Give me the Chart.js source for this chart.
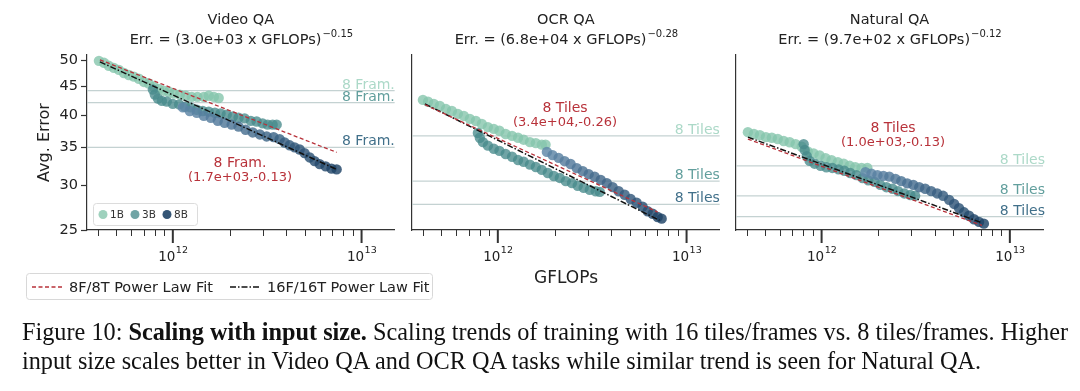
<!DOCTYPE html>
<html lang="en">
<head>
<meta charset="utf-8">
<script src="https://cdn.jsdelivr.net/npm/chart.js@4.4.1/dist/chart.umd.min.js"></script>
<style>
    body { margin: 0; background: #fff; width: 1080px; height: 391px; overflow: hidden; position: relative; }
    canvas.pane { position: absolute; top: 0; }
    #overlay { position: absolute; left: 0; top: 0; pointer-events: none; }
    #caption { position: absolute; left: 22px; top: 317px; font-family: "Liberation Serif", "Times New Roman", serif;
               color: #111; line-height: 29px; white-space: nowrap; }
</style>
</head>
<body>
<canvas id="c1" class="pane" width="400" height="270" style="left:0px"></canvas>
<canvas id="c2" class="pane" width="325" height="270" style="left:400px"></canvas>
<canvas id="c3" class="pane" width="355" height="270" style="left:725px"></canvas>
<canvas id="overlay" width="1080" height="310"></canvas>
<div id="caption">
    <div id="cap1">Figure 10: <b>Scaling with input size.</b> Scaling trends of training with 16 tiles/frames vs. 8 tiles/frames. Higher</div>
    <div id="cap2">input size scales better in Video QA and OCR QA tasks while similar trend is seen for Natural QA.</div>
</div>
<script>
// ---- axis ticks ----
const xMinorTicks = [4e11, 5e11, 6e11, 7e11, 8e11, 9e11, 2e12, 3e12, 4e12, 5e12, 6e12, 7e12, 8e12, 9e12];
const xMajorTicks = [1e12, 1e13];
const videoYTicks = [25, 30, 35, 40, 45, 50];

const panelTitles = ['Video QA', 'OCR QA', 'Natural QA'];
const fitCoef = ['3.0e+03', '6.8e+04', '9.7e+02'];
const fitExp = ['\u22120.15', '\u22120.28', '\u22120.12'];
const refNames = ['8 Fram.', '8 Tiles', '8 Tiles'];
const fit8Text = ['(1.7e+03,-0.13)', '(3.4e+04,-0.26)', '(1.0e+03,-0.13)'];
const modelSizes = ['1B', '3B', '8B'];

// ---- Video QA ----
const videoX1B = [4.06e11, 4.32e11, 4.58e11, 4.87e11, 5.18e11, 5.51e11, 5.85e11, 6.22e11, 6.61e11, 7.03e11, 7.47e11, 7.93e11,
                  8.44e11, 8.96e11, 9.52e11, 1.01e12, 1.09e12, 1.17e12, 1.26e12, 1.35e12, 1.46e12, 1.55e12, 1.65e12, 1.75e12];
const videoY1B = [49.8, 49.4, 48.8, 48.4, 48.0, 47.4, 47.0, 46.7, 46.3, 45.7, 45.4, 44.8,
                  44.4, 44.1, 43.9, 43.6, 43.4, 43.2, 43.0, 43.0, 43.0, 43.2, 43.0, 42.8];
const videoX3B = [7.84e11, 8.03e11, 8.34e11, 8.75e11, 9.29e11, 1.00e12, 1.08e12, 1.16e12, 1.24e12, 1.34e12, 1.44e12, 1.55e12,
                  1.67e12, 1.79e12, 1.93e12, 2.08e12, 2.23e12, 2.40e12, 2.59e12, 2.78e12, 2.99e12, 3.18e12, 3.38e12, 3.55e12];
const videoY3B = [44.3, 43.4, 42.7, 42.3, 42.2, 41.8, 41.7, 41.3, 41.2, 40.8, 40.6, 40.5,
                  40.3, 40.2, 40.0, 39.7, 39.5, 39.4, 39.0, 38.9, 38.6, 38.4, 38.4, 38.4];
const videoX8B = [1.13e12, 1.23e12, 1.34e12, 1.46e12, 1.59e12, 1.73e12, 1.88e12, 2.05e12, 2.23e12, 2.43e12, 2.65e12, 2.89e12, 3.14e12,
                  3.42e12, 3.68e12, 3.91e12, 4.16e12, 4.42e12, 4.70e12, 4.99e12, 5.31e12, 5.64e12, 6.00e12, 6.45e12, 6.93e12, 7.38e12];
const videoY8B = [41.2, 40.6, 40.3, 39.8, 39.5, 39.0, 38.7, 38.4, 38.1, 37.6, 37.2, 36.9, 36.6,
                  36.5, 36.2, 35.7, 35.3, 35.0, 34.7, 34.2, 33.6, 33.1, 32.7, 32.4, 32.1, 32.0];
const videoRef = [44.1, 42.0, 35.0];
const videoFit8X = [4.11e11, 7.38e12], videoFit8Y = [50.0, 34.3];
const videoFit16X = [4.11e11, 7.38e12], videoFit16Y = [49.6, 32.0];

// ---- OCR QA ----
const ocrX1B = [4.01e11, 4.27e11, 4.58e11, 4.93e11, 5.31e11, 5.71e11, 6.14e11, 6.61e11, 7.11e11, 7.65e11, 8.23e11,
                8.86e11, 9.52e11, 1.02e12, 1.10e12, 1.19e12, 1.28e12, 1.37e12, 1.48e12, 1.59e12, 1.71e12, 1.79e12];
const ocrY1B = [39.2, 38.7, 38.1, 37.6, 36.8, 36.3, 35.6, 35.1, 34.4, 33.9, 33.2,
                32.5, 32.1, 31.7, 31.0, 30.6, 30.2, 29.8, 29.3, 29.1, 28.8, 28.8];
const ocrX3B = [7.84e11, 8.03e11, 8.34e11, 8.86e11, 9.52e11, 1.02e12, 1.10e12, 1.19e12, 1.28e12, 1.37e12, 1.48e12, 1.59e12,
                1.71e12, 1.84e12, 1.98e12, 2.13e12, 2.29e12, 2.47e12, 2.65e12, 2.85e12, 3.07e12, 3.30e12, 3.47e12];
const ocrY3B = [31.2, 30.2, 29.3, 28.6, 28.0, 27.6, 27.0, 26.5, 25.9, 25.6, 25.1, 24.7,
                24.2, 23.7, 23.2, 22.9, 22.4, 22.1, 21.7, 21.4, 21.1, 20.9, 20.8];
const ocrX8B = [1.82e12, 1.95e12, 2.10e12, 2.26e12, 2.43e12, 2.62e12, 2.82e12, 3.03e12, 3.26e12, 3.51e12, 3.78e12,
                4.06e12, 4.37e12, 4.70e12, 5.06e12, 5.44e12, 5.85e12, 6.22e12, 6.61e12, 7.03e12, 7.38e12];
const ocrY8B = [27.4, 26.8, 26.3, 25.7, 25.2, 24.5, 24.0, 23.5, 23.1, 22.6, 22.1,
                21.5, 20.9, 20.4, 19.8, 19.3, 18.8, 18.2, 17.9, 17.5, 17.3];
const ocrRef = [30.6, 22.4, 19.1];
const ocrFit8X = [4.11e11, 7.03e12], ocrFit8Y = [37.9, 18.1];
const ocrFit16X = [4.11e11, 7.19e12], ocrFit16Y = [38.1, 17.1];

// ---- Natural QA ----
const natX1B = [4.06e11, 4.37e11, 4.70e11, 5.06e11, 5.44e11, 5.85e11, 6.29e11, 6.77e11, 7.28e11, 7.84e11, 8.44e11,
                9.07e11, 9.76e11, 1.05e12, 1.13e12, 1.22e12, 1.31e12, 1.41e12, 1.51e12, 1.63e12, 1.75e12];
const natY1B = [40.0, 39.7, 39.5, 39.2, 39.1, 38.9, 38.6, 38.4, 38.1, 37.7, 37.0,
                36.7, 36.4, 36.0, 35.7, 35.4, 35.2, 34.9, 34.7, 34.6, 34.6];
const natX3B = [8.03e11, 8.13e11, 8.34e11, 8.64e11, 9.18e11, 9.88e11, 1.06e12, 1.14e12, 1.23e12, 1.32e12, 1.42e12,
                1.53e12, 1.65e12, 1.77e12, 1.91e12, 2.05e12, 2.21e12, 2.38e12, 2.55e12, 2.75e12, 2.96e12, 3.14e12];
const natY3B = [38.1, 37.2, 36.3, 35.6, 35.2, 34.9, 34.7, 34.6, 34.4, 34.2, 33.9,
                33.6, 33.2, 32.9, 32.7, 32.3, 32.0, 31.8, 31.5, 31.2, 31.0, 30.9];
const natX8B = [1.71e12, 1.84e12, 1.98e12, 2.13e12, 2.29e12, 2.47e12, 2.65e12, 2.85e12, 3.07e12, 3.30e12, 3.55e12,
                3.82e12, 4.11e12, 4.42e12, 4.76e12, 5.06e12, 5.37e12, 5.71e12, 6.07e12, 6.45e12, 6.86e12, 7.28e12];
const natY8B = [34.0, 33.8, 33.6, 33.5, 33.4, 33.1, 32.8, 32.5, 32.3, 32.0, 31.8,
                31.5, 31.2, 30.9, 30.4, 29.9, 29.4, 28.9, 28.5, 28.1, 27.8, 27.6];
const natRef = [34.9, 30.9, 28.4];
const natFit8X = [4.06e11, 7.11e12], natFit8Y = [38.9, 27.4];
const natFit16X = [4.06e11, 7.11e12], natFit16Y = [39.2, 27.7];

// ---- styles ----
const FONT = '"DejaVu Sans", sans-serif';
const AXIS = '#333';
const RED = '#b8323a';
const X_MIN = 3.51e11, X_MAX = 1.5e13;
const pointColors = ['rgba(134,198,172,0.8)', 'rgba(72,138,140,0.78)', null];
const labelColors = ['#acd9c8', '#629f9d', '#41708a'];
const refLine = 'rgba(190,205,205,0.9)';

function navy(c) {
    const n = c.dataset.data.length;
    const t = n > 1 ? c.dataIndex / (n - 1) : 1;
    return 'rgba(' + Math.round(95 - 65 * t) + ',' + Math.round(135 - 68 * t) + ',' + Math.round(168 - 66 * t) + ',0.82)';
}
function pts(xs, ys) { return xs.map((x, i) => ({x: x, y: ys[i]})); }

const panels = [
    {id: 'c1', yMin: 25, yMax: 51, yW: 87, padR: 5, refDx: 0, ann: [240, 163], yTicks: videoYTicks, legend: true,
     series: [[videoX1B, videoY1B], [videoX3B, videoY3B], [videoX8B, videoY8B]], ref: videoRef,
     fit8: [videoFit8X, videoFit8Y], fit16: [videoFit16X, videoFit16Y]},
    {id: 'c2', yMin: 16, yMax: 53.4, yW: 12, padR: 5, refDx: 0, ann: [165, 108], yTicks: null, legend: false,
     series: [[ocrX1B, ocrY1B], [ocrX3B, ocrY3B], [ocrX8B, ocrY8B]], ref: ocrRef,
     fit8: [ocrFit8X, ocrFit8Y], fit16: [ocrFit16X, ocrFit16Y]},
    {id: 'c3', yMin: 26.9, yMax: 54.7, yW: 11, padR: 37, refDx: 2, ann: [168, 128], yTicks: null, legend: false,
     series: [[natX1B, natY1B], [natX3B, natY3B], [natX8B, natY8B]], ref: natRef,
     fit8: [natFit8X, natFit8Y], fit16: [natFit16X, natFit16Y]}
];

const decor = {
    id: 'decor',
    afterDraw(chart, args, o) {
        const ctx = chart.ctx, ca = chart.chartArea, xs = chart.scales.x, ys = chart.scales.y;
        const cx = (ca.left + ca.right) / 2;
        ctx.save();
        ctx.fillStyle = '#222';
        ctx.textBaseline = 'middle';
        // titles
        ctx.textAlign = 'center';
        ctx.font = '14.5px ' + FONT;
        ctx.fillText(o.title, cx, 20);
        const main = 'Err. = (' + o.coef + ' x GFLOPs)';
        const w1 = ctx.measureText(main).width;
        ctx.font = '10px ' + FONT;
        const w2 = ctx.measureText(o.exp).width;
        const x0 = cx - (w1 + w2) / 2;
        ctx.textAlign = 'left';
        ctx.font = '14.5px ' + FONT;
        ctx.fillText(main, x0, 40);
        ctx.font = '10px ' + FONT;
        ctx.fillText(o.exp, x0 + w1 + 1, 34);

        // x ticks
        ctx.strokeStyle = AXIS;
        ctx.lineWidth = 1;
        xMinorTicks.forEach(v => {
            const px = Math.round(xs.getPixelForValue(v)) + 0.5;
            ctx.beginPath(); ctx.moveTo(px, ca.bottom); ctx.lineTo(px, ca.bottom + 6); ctx.stroke();
        });
        ctx.lineWidth = 2;
        xMajorTicks.forEach(v => {
            const px = xs.getPixelForValue(v);
            ctx.beginPath(); ctx.moveTo(px, ca.bottom); ctx.lineTo(px, ca.bottom + 13); ctx.stroke();
            const ex = String(Math.round(Math.log10(v)));
            ctx.font = '13.5px ' + FONT;
            const a = ctx.measureText('10').width;
            ctx.font = '9.5px ' + FONT;
            const b = ctx.measureText(ex).width;
            const lx = px - (a + b) / 2;
            ctx.textAlign = 'left';
            ctx.font = '13.5px ' + FONT;
            ctx.fillText('10', lx, ca.bottom + 27);
            ctx.font = '9.5px ' + FONT;
            ctx.fillText(ex, lx + a + 0.5, ca.bottom + 21);
        });

        // y ticks
        if (o.yTicks) {
            ctx.lineWidth = 1.2;
            ctx.font = '14.5px ' + FONT;
            ctx.textAlign = 'right';
            o.yTicks.forEach(v => {
                const py = Math.round(ys.getPixelForValue(v)) + 0.5;
                ctx.beginPath(); ctx.moveTo(ca.left - 6, py); ctx.lineTo(ca.left, py); ctx.stroke();
                ctx.fillText(String(v), ca.left - 9, py);
            });
            ctx.save();
            ctx.translate(ca.left - 42, (ca.top + ca.bottom) / 2);
            ctx.rotate(-Math.PI / 2);
            ctx.textAlign = 'center';
            ctx.font = '16px ' + FONT;
            ctx.fillText('Avg. Error', 0, 0);
            ctx.restore();
        }

        // 8 frame / tile reference labels
        ctx.font = '14px ' + FONT;
        ctx.textAlign = 'right';
        ctx.textBaseline = 'alphabetic';
        o.ref.forEach((v, i) => {
            ctx.fillStyle = labelColors[i];
            ctx.fillText(o.refName, ca.right + o.refDx, ys.getPixelForValue(v) - 2);
        });

        // 8F fit annotation
        ctx.fillStyle = RED;
        ctx.textAlign = 'center';
        ctx.textBaseline = 'middle';
        ctx.font = '14px ' + FONT;
        ctx.fillText(o.refName, o.ann[0], o.ann[1]);
        ctx.font = '13px ' + FONT;
        ctx.fillText(o.fitText, o.ann[0], o.ann[1] + 15);

        // model size legend
        if (o.legend) {
            const lx = ca.left + 6, ly = ca.bottom - 27;
            ctx.fillStyle = 'rgba(255,255,255,0.85)';
            ctx.strokeStyle = '#dcdcdc';
            ctx.lineWidth = 1;
            ctx.beginPath(); ctx.roundRect(lx + 0.5, ly + 0.5, 104, 22, 3); ctx.fill(); ctx.stroke();
            const cols = [pointColors[0], pointColors[1], 'rgba(30,67,102,0.9)'];
            ctx.font = '10.5px ' + FONT;
            ctx.textAlign = 'left';
            modelSizes.forEach((s, i) => {
                const dx = lx + 10 + i * 32;
                ctx.fillStyle = cols[i];
                ctx.beginPath(); ctx.arc(dx, ly + 11.5, 4.5, 0, Math.PI * 2); ctx.fill();
                ctx.fillStyle = '#333';
                ctx.fillText(s, dx + 7, ly + 12);
            });
        }
        ctx.restore();
    }
};

panels.forEach((p, k) => {
    const datasets = [];
    p.ref.forEach(v => datasets.push({
        data: [{x: X_MIN, y: v}, {x: X_MAX, y: v}], showLine: true, borderColor: refLine,
        borderWidth: 1.2, pointRadius: 0, order: 10
    }));
    p.series.forEach((s, i) => datasets.push({
        label: modelSizes[i], data: pts(s[0], s[1]), pointRadius: 5.2, pointBorderWidth: 0,
        pointBackgroundColor: pointColors[i] || navy, order: 7 - i
    }));
    datasets.push({
        data: pts(p.fit16[0], p.fit16[1]), showLine: true, borderColor: '#111', borderWidth: 1.5,
        borderDash: [6, 2, 1.5, 2], pointRadius: 0, order: 2
    });
    datasets.push({
        data: pts(p.fit8[0], p.fit8[1]), showLine: true, borderColor: RED, borderWidth: 1.3,
        borderDash: [4, 2.5], pointRadius: 0, order: 1
    });

    new Chart(document.getElementById(p.id), {
        type: 'scatter',
        data: {datasets: datasets},
        plugins: [decor],
        options: {
            responsive: false, animation: false, events: [], devicePixelRatio: 1,
            layout: {padding: {top: 55, right: p.padR, left: 0, bottom: 0}},
            plugins: {
                legend: {display: false}, tooltip: {enabled: false},
                decor: {title: panelTitles[k], coef: fitCoef[k], exp: fitExp[k], refName: refNames[k],
                        fitText: fit8Text[k], ann: p.ann, ref: p.ref, yTicks: p.yTicks, legend: p.legend, refDx: p.refDx}
            },
            scales: {
                x: {type: 'logarithmic', min: X_MIN, max: X_MAX, ticks: {display: false},
                    grid: {display: true, drawOnChartArea: false, drawTicks: false},
                    border: {display: true, color: AXIS, width: 1.2},
                    afterFit(s) { s.height = 40; }},
                y: {type: 'logarithmic', min: p.yMin, max: p.yMax, ticks: {display: false},
                    grid: {display: true, drawOnChartArea: false, drawTicks: false},
                    border: {display: true, color: AXIS, width: 1.2},
                    afterFit(s) { s.width = p.yW; }}
            }
        }
    });
});

// shared x label and fit legend
const oc = document.getElementById('overlay').getContext('2d');
oc.fillStyle = '#222';
oc.textAlign = 'center';
oc.textBaseline = 'middle';
oc.font = '17px ' + FONT;
oc.fillText('GFLOPs', 566, 279);
oc.strokeStyle = '#d8d8d8';
oc.lineWidth = 1;
oc.fillStyle = '#fff';
oc.beginPath(); oc.roundRect(26.5, 273.5, 406, 26, 3); oc.fill(); oc.stroke();
oc.lineWidth = 1.3; oc.strokeStyle = RED; oc.setLineDash([4, 2.5]);
oc.beginPath(); oc.moveTo(32, 287); oc.lineTo(62, 287); oc.stroke();
oc.lineWidth = 1.5; oc.strokeStyle = '#111'; oc.setLineDash([6, 2, 1.5, 2]);
oc.beginPath(); oc.moveTo(230, 287); oc.lineTo(260, 287); oc.stroke();
oc.setLineDash([]);
oc.fillStyle = '#222';
oc.textAlign = 'left';
oc.font = '14.5px ' + FONT;
oc.fillText('8F/8T Power Law Fit', 69, 288);
oc.fillText('16F/16T Power Law Fit', 267, 288);

// fit caption width to the reference line length
const cap = document.getElementById('caption');
cap.style.fontSize = '20px';
const w = document.getElementById('cap1').getBoundingClientRect().width;
cap.style.fontSize = (20 * 1046 / w).toFixed(2) + 'px';
</script>
</body>
</html>
